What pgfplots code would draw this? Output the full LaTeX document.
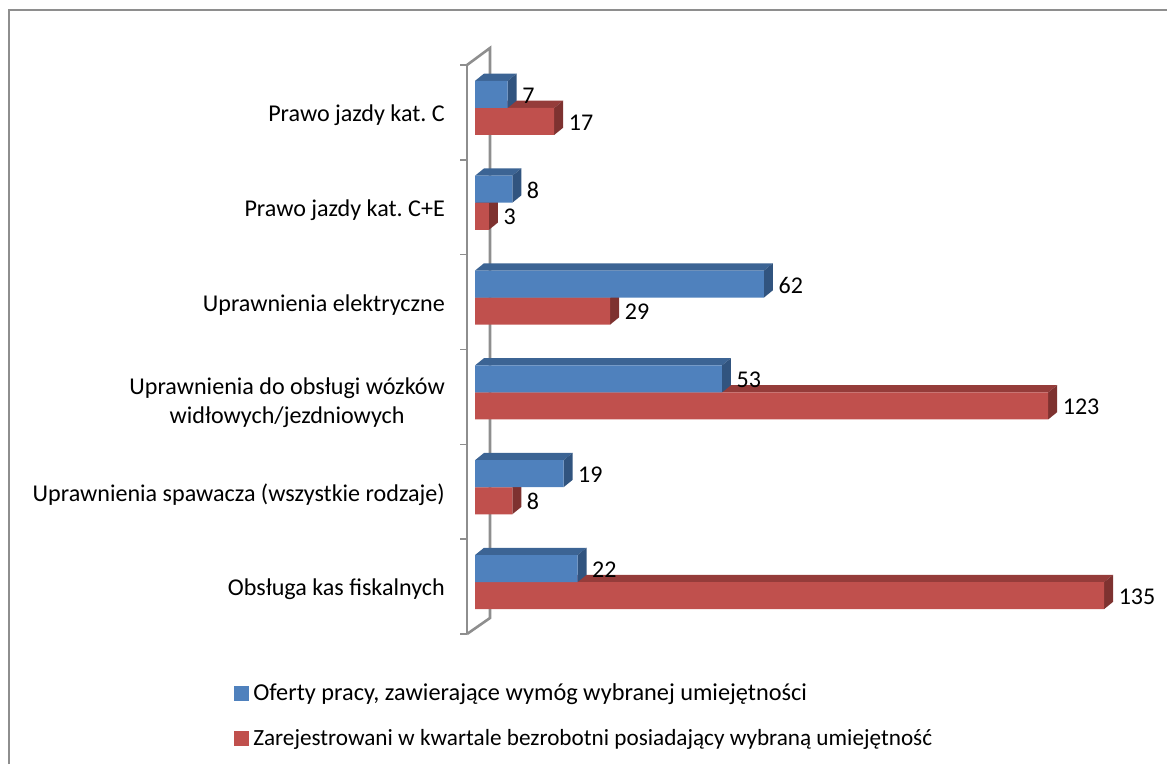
\documentclass[border=0pt]{standalone}
\usepackage{fontspec}
\setmainfont{Carlito}
\usepackage{pgfplots}
\usepackage{pgfplotstable}
\pgfplotsset{compat=1.18}
\definecolor{bfront}{HTML}{4F81BD}
\definecolor{btop}{HTML}{3C6494}
\definecolor{bside}{HTML}{31547F}
\definecolor{rfront}{HTML}{C0504D}
\definecolor{rtop}{HTML}{953C3A}
\definecolor{rside}{HTML}{7E3230}
\definecolor{axgray}{HTML}{8E8E8E}
% pos: category position; oferty and bezrobotni as read from the labels
\pgfplotstableread{
pos oferty
-0.19 7
0.81 8
1.81 62
2.81 53
3.81 19
4.81 22
}\tblue
\pgfplotstableread{
pos bezrobotni
0.095 17
1.095 3
2.095 29
3.095 123
4.095 8
5.095 135
}\tred
% depth faces of one bar: value, y centre, top colour, side colour
\newcommand\depth[4]{%
  \pgfmathsetmacro\xa{#1+1.931}%
  \pgfmathsetmacro\yt{#2-0.1424}%
  \pgfmathsetmacro\yb{#2+0.1424}%
  \pgfmathsetmacro\ytt{\yt-0.077}%
  \pgfmathsetmacro\ybb{\yb-0.077}%
  \addplot[fill=#3,draw=none,forget plot] coordinates {(0,\yt) (#1,\yt) (\xa,\ytt) (1.931,\ytt)} --cycle;
  \addplot[fill=#4,draw=none,forget plot] coordinates {(#1,\yt) (\xa,\ytt) (\xa,\ybb) (#1,\yb)} --cycle;
}
\pgfplotsset{frontbar/.style={
  xbar, bar width=27pt, bar shift=0pt, draw=none, forget plot,
  point meta=x,
  nodes near coords={\pgfmathprintnumber[assume math mode=true]{\pgfplotspointmeta}},
  nodes near coords align={horizontal},
  every node near coord/.append style={font=\fontsize{24}{28}\selectfont,inner sep=0pt,xshift=14.5pt,yshift=-1pt,text=black},
}}
\frenchspacing
\begin{document}
\begin{tikzpicture}[x=1pt,y=1pt]
\path[use as bounding box] (0,0) rectangle (1167,764);
\draw[axgray,line width=1.8pt] (8.8,0) -- (8.8,754) -- (1167,754);
% back wall of the 3-D axis
\draw[axgray,line width=2.6pt] (467,699) -- (490,716) -- (490,146) -- (467,130);
\begin{axis}[
  at={(467pt,130pt)}, anchor=south west,
  scale only axis, width=700pt, height=569pt,
  xmin=-1.717, xmax=148.5, ymin=-0.5, ymax=5.5,
  y dir=reverse,
  axis y line*=left,
  axis x line=none,
  y axis line style={draw=axgray,line width=2.6pt,-},
  ytick={0,1,2,3,4,5},
  yticklabels={Prawo jazdy kat. C,Prawo jazdy kat. C+E,Uprawnienia elektryczne,{\rule{0pt}{23pt}Uprawnienia do obsługi wózków\\widłowych/jezdniowych},Uprawnienia spawacza (wszystkie rodzaje),Obsługa kas fiskalnych},
  yticklabel style={align=center,anchor=east,inner sep=0pt,yshift=-2.5pt,font=\fontsize{24.1}{29}\selectfont,xshift=-22pt},
  major tick length=0pt,
  minor ytick={-0.5,0.5,1.5,2.5,3.5,4.5,5.5},
  minor tick length=7pt,
  tick align=outside,
  tick style={draw=axgray,line width=1.6pt},
  clip=false,
  legend style={at={(-0.333,-0.0838)},anchor=north west,draw=none,fill=none,
    inner sep=0pt,outer sep=0pt,
    font=\fontsize{23.2}{28}\selectfont,legend cell align=left,row sep=23pt},
]
\addlegendimage{legend image code/.code={\fill[bfront] (0pt,-7pt) rectangle (14pt,7pt);}}
\addlegendentry{\hspace{3pt}\fontsize{24.3}{28}\selectfont Oferty pracy, zawierające wymóg wybranej umiejętności}
\addlegendimage{legend image code/.code={\fill[rfront] (0pt,-7pt) rectangle (14pt,7pt);}}
\addlegendentry{\hspace{3pt}Zarejestrowani w kwartale bezrobotni posiadający wybraną umiejętność}
\depth{17}{0.095}{rtop}{rside}
\depth{3}{1.095}{rtop}{rside}
\depth{29}{2.095}{rtop}{rside}
\depth{123}{3.095}{rtop}{rside}
\depth{8}{4.095}{rtop}{rside}
\depth{135}{5.095}{rtop}{rside}
\addplot[frontbar,fill=rfront] table[x=bezrobotni,y=pos] {\tred};
\depth{7}{-0.19}{btop}{bside}
\depth{8}{0.81}{btop}{bside}
\depth{62}{1.81}{btop}{bside}
\depth{53}{2.81}{btop}{bside}
\depth{19}{3.81}{btop}{bside}
\depth{22}{4.81}{btop}{bside}
\addplot[frontbar,fill=bfront] table[x=oferty,y=pos] {\tblue};
\end{axis}
\end{tikzpicture}
\end{document}
